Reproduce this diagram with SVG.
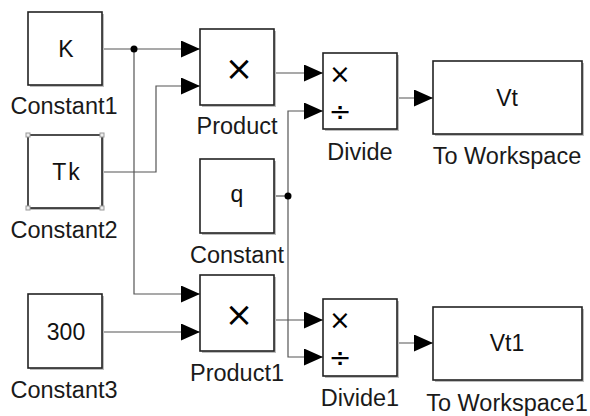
<svg xmlns="http://www.w3.org/2000/svg" width="590" height="416" viewBox="0 0 590 416">
<defs>
<marker id="arr" markerUnits="userSpaceOnUse" markerWidth="20" markerHeight="18" refX="19" refY="8.5" orient="auto">
<path d="M0,0 L19,8.5 L0,17 z" fill="#000"/>
</marker>
</defs>
<style>
.box{fill:#fff;stroke:#222;stroke-width:1.6}
.sh{fill:#bdbdbd}
.lbl{font-family:"Liberation Sans",Arial,sans-serif;font-size:23.5px;fill:#1a1a1a;text-anchor:middle}
.in{font-family:"Liberation Sans",Arial,sans-serif;font-size:23px;fill:#111;text-anchor:middle}
.sym{font-family:"DejaVu Sans",sans-serif;fill:#000;text-anchor:middle}
.w{fill:none;stroke:#555;stroke-width:1.2}
.hd{fill:#eee;stroke:#999;stroke-width:1}
</style>
<rect width="590" height="416" fill="#fff"/>
<g id="connectors">
<path class="w" d="M102,49 H200" marker-end="url(#arr)"/>
<path class="w" d="M134,49 V294 H200" marker-end="url(#arr)"/>
<path class="w" d="M102,172 H156 V86 H200" marker-end="url(#arr)"/>
<path class="w" d="M102,332 H200" marker-end="url(#arr)"/>
<path class="w" d="M274,73 H323" marker-end="url(#arr)"/>
<path class="w" d="M274,196 H288"/>
<path class="w" d="M288,196 V111 H323" marker-end="url(#arr)"/>
<path class="w" d="M288,196 V357 H323" marker-end="url(#arr)"/>
<path class="w" d="M274,320 H323" marker-end="url(#arr)"/>
<path class="w" d="M397,98 H433" marker-end="url(#arr)"/>
<path class="w" d="M397,343 H433" marker-end="url(#arr)"/>
<circle cx="134" cy="49" r="3.5" fill="#000"/>
<circle cx="288" cy="196" r="3.5" fill="#000"/>
</g>
<g id="Constant1">
<rect class="sh" x="30" y="14" width="74" height="73"/>
<rect class="box" x="28" y="12" width="74" height="73"/>
<text class="in" x="66" y="57">K</text>
<text class="lbl" x="64" y="114">Constant1</text>
</g>
<g id="Constant2">
<rect class="sh" x="30" y="137" width="74" height="73"/>
<rect class="box" x="28" y="135" width="74" height="73"/>
<rect class="hd" x="26" y="133" width="4" height="4"/>
<rect class="hd" x="100" y="133" width="4" height="4"/>
<rect class="hd" x="26" y="206" width="4" height="4"/>
<rect class="hd" x="100" y="206" width="4" height="4"/>
<text class="in" x="67" y="180" letter-spacing="2">Tk</text>
<text class="lbl" x="64" y="238">Constant2</text>
</g>
<g id="Constant3">
<rect class="sh" x="30" y="296" width="74" height="74"/>
<rect class="box" x="28" y="294" width="74" height="74"/>
<text class="in" x="66" y="340">300</text>
<text class="lbl" x="64" y="398">Constant3</text>
</g>
<g id="Product">
<rect class="sh" x="202" y="31" width="74" height="76"/>
<rect class="box" x="200" y="29" width="74" height="76"/>
<text class="sym" x="239" y="80" font-size="34">×</text>
<text class="lbl" x="237" y="134">Product</text>
</g>
<g id="Constant">
<rect class="sh" x="202" y="161" width="74" height="74"/>
<rect class="box" x="200" y="159" width="74" height="74"/>
<text class="in" x="237" y="202">q</text>
<text class="lbl" x="237" y="263">Constant</text>
</g>
<g id="Product1">
<rect class="sh" x="202" y="277" width="74" height="76"/>
<rect class="box" x="200" y="275" width="74" height="76"/>
<text class="sym" x="239" y="326" font-size="34">×</text>
<text class="lbl" x="237" y="381">Product1</text>
</g>
<g id="Divide">
<rect class="sh" x="325" y="55" width="74" height="76"/>
<rect class="box" x="323" y="53" width="74" height="76"/>
<text class="sym" x="340" y="83" font-size="26">×</text>
<text class="sym" x="340" y="121" font-size="27">÷</text>
<text class="lbl" x="360" y="160">Divide</text>
</g>
<g id="Divide1">
<rect class="sh" x="325" y="301" width="74" height="77"/>
<rect class="box" x="323" y="299" width="74" height="77"/>
<text class="sym" x="340" y="329" font-size="26">×</text>
<text class="sym" x="340" y="367" font-size="27">÷</text>
<text class="lbl" x="360" y="406">Divide1</text>
</g>
<g id="ToWorkspace">
<rect class="sh" x="435" y="63" width="149" height="73"/>
<rect class="box" x="433" y="61" width="149" height="73"/>
<text class="in" x="507" y="106">Vt</text>
<text class="lbl" x="507" y="164">To Workspace</text>
</g>
<g id="ToWorkspace1">
<rect class="sh" x="435" y="309" width="149" height="73"/>
<rect class="box" x="433" y="307" width="149" height="73"/>
<text class="in" x="507" y="351">Vt1</text>
<text class="lbl" x="507" y="411">To Workspace1</text>
</g>
</svg>
